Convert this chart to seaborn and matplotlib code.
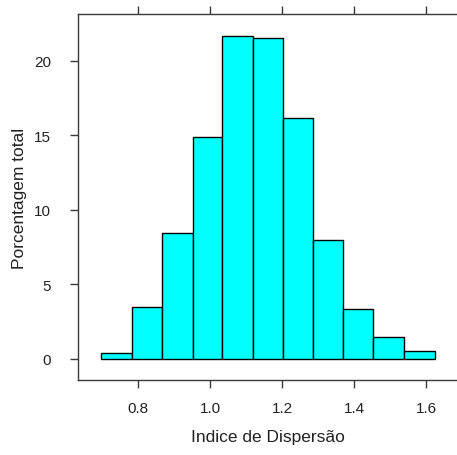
import numpy as np
import pandas as pd
import matplotlib
matplotlib.use("Agg")
import matplotlib.pyplot as plt
import seaborn as sns

# =========================
# Data
# =========================
bin_edges = [0.696, 0.783, 0.867, 0.951, 1.034, 1.119, 1.203, 1.286, 1.369, 1.453, 1.538, 1.624]
percent_total = [0.43, 3.47, 8.46, 14.9, 21.66, 21.57, 16.15, 8.0, 3.33, 1.50, 0.52]
x_ticks = [0.8, 1.0, 1.2, 1.4, 1.6]
y_ticks = [0, 5, 10, 15, 20]

bin_mids = [(a + b) / 2 for a, b in zip(bin_edges[:-1], bin_edges[1:])]
df = pd.DataFrame({"Indice": bin_mids, "Pct": percent_total})

sns.set_style("white")
plt.rcParams['font.family'] = ['Liberation Sans', 'DejaVu Sans']

W, H = 457, 456
fig = plt.figure(figsize=(W / 100, H / 100), dpi=100)
ax = fig.add_axes([77.7 / W, (H - 381) / H, (458 - 77.7) / W, (381 - 15) / H])

sns.histplot(data=df, x="Indice", weights="Pct", bins=bin_edges, stat="count",
             color="#00FFFF", edgecolor="black", linewidth=1.0, alpha=1.0, ax=ax)

ax.set_xlim(0.632, 1.688)
ax.set_ylim(-1.41, 23.15)
ax.set_xticks(x_ticks)
ax.set_xticklabels(["%.1f" % v for v in x_ticks])
ax.set_yticks(y_ticks)
ax.set_yticklabels([str(v) for v in y_ticks])

axis_col = "#3a3a3a"
for s in ax.spines.values():
    s.set_color(axis_col)
    s.set_linewidth(1.0)

ax.tick_params(axis="x", which="both", direction="out", length=6, width=1.0,
               color=axis_col, top=True, bottom=True, labeltop=False,
               labelsize=11, pad=9, labelcolor="#222222")
ax.tick_params(axis="y", which="both", direction="out", length=6, width=1.0,
               color=axis_col, left=True, right=False,
               labelsize=11, pad=13, labelcolor="#222222")

ax.set_xlabel("Indice de Dispersão", fontsize=12.5, labelpad=10, color="#222222")
ax.set_ylabel("Porcentagem total", fontsize=12.5, labelpad=5, color="#222222")

fig.savefig("out.png", dpi=100)
